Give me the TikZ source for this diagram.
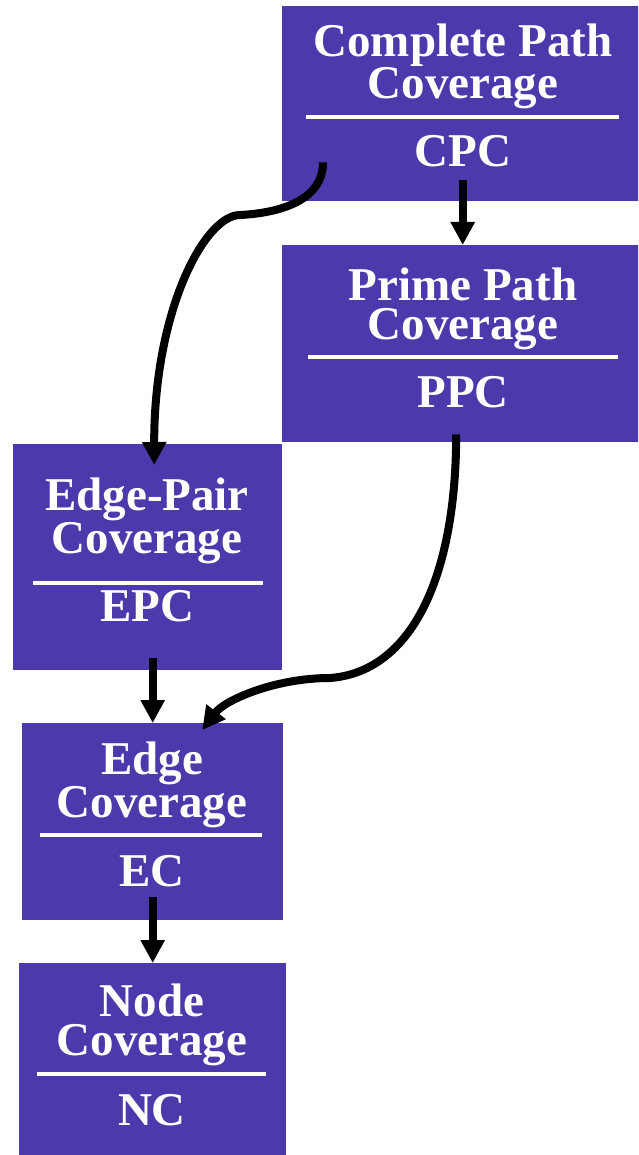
\documentclass[tikz,border=0pt]{standalone}
\usepackage{fontspec}
\setmainfont{Liberation Serif}
\usetikzlibrary{arrows.meta}
\definecolor{boxcol}{RGB}{75,58,171}
\tikzset{
  box/.style={rectangle, fill=boxcol, draw=none, inner sep=0pt, anchor=north west},
  lbl/.style={text=white, inner sep=0pt, anchor=base,
              font=\fontsize{47}{47}\selectfont\bfseries},
  title/.style={lbl, align=center,
              font=\fontsize{47}{39}\selectfont\bfseries},
  divider/.style={draw=white, line width=4pt},
  link/.style={draw=black, line width=8pt, -{Triangle[length=23pt,width=23pt]}}
}
\begin{document}
\begin{tikzpicture}[x=1pt,y=-1pt]
\useasboundingbox (0,0) rectangle (638,1155);
\clip (0,0) rectangle (638,1155);

% coverage criteria boxes
\node[box, minimum width=361pt, minimum height=195pt] (cpc) at (282,6) {};
\node[box, minimum width=361pt, minimum height=197pt] (ppc) at (282,245) {};
\node[box, minimum width=269pt, minimum height=226pt] (epc) at (13,444) {};
\node[box, minimum width=261pt, minimum height=197pt] (ec)  at (22,723) {};
\node[box, minimum width=267pt, minimum height=195pt] (nc)  at (19,963) {};

% titles are placed by the baseline of their last line
% Complete Path Coverage
\node[title] (cpc-t) at (463,99) {Complete Path\\Coverage};
\draw[divider] (306,117) -- (619,117);
\node[lbl] (cpc-ab) at (463,167) {CPC};

% Prime Path Coverage
\node[title] (ppc-t) at (463,339) {Prime Path\\Coverage};
\draw[divider] (308,357) -- (618,357);
\node[lbl] (ppc-ab) at (463,407) {PPC};

% Edge-Pair Coverage
\node[title] (epc-t) at (147,553) {Edge-Pair\\Coverage};
\draw[divider] (33,583) -- (263,583);
\node[lbl] (epc-ab) at (147,621) {EPC};

% Edge Coverage
\node[title] (ec-t) at (152,817) {Edge\\Coverage};
\draw[divider] (40,835) -- (262,835);
\node[lbl] (ec-ab) at (152,886) {EC};

% Node Coverage
\node[title] (nc-t) at (152,1055) {Node\\Coverage};
\draw[divider] (37,1074) -- (266,1074);
\node[lbl] (nc-ab) at (152,1125) {NC};

% subsumption arrows
\coordinate (bendA) at (240,215);
\coordinate (bendB) at (330,678);

\draw[link] ([yshift=21pt]cpc.south) -- (ppc.north);
\draw[link] ([xshift=41pt,yshift=39pt]cpc.south west)
  .. controls +(0,38) and (280,213) .. (bendA)
  .. controls (205,215) and (154,310) .. ([xshift=6.5pt,yshift=-21pt]epc.north);
\draw[link] ([xshift=-6.5pt,yshift=8pt]ppc.south)
  .. controls (456,580) and (410,672) .. (bendB)
  .. controls (275,678) and (225,700) .. ([xshift=49.5pt,yshift=-7pt]ec.north);
\draw[link] ([yshift=12pt]epc.south -| ec.north) -- (ec.north);
\draw[link] ([yshift=23pt]ec.south) -- (nc.north);
\end{tikzpicture}
\end{document}
